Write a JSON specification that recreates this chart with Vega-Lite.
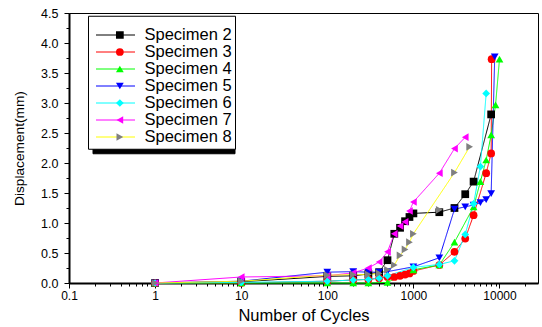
{
  "$schema": "https://vega.github.io/schema/vega-lite/v6.json",
  "width": 469,
  "height": 270,
  "autosize": {"type": "none"},
  "padding": {"left": 69, "top": 13, "right": 4, "bottom": 44},
  "background": "white",
  "config": {
    "font": "Liberation Sans",
    "view": {"stroke": "#000000", "strokeWidth": 1}
  },
  "data": {
    "values": [
      {"specimen": "Specimen 2", "cycles": 1, "disp": 0, "joined": true},
      {"specimen": "Specimen 2", "cycles": 10, "disp": 0.02, "joined": true},
      {"specimen": "Specimen 2", "cycles": 100, "disp": 0.11, "joined": true},
      {"specimen": "Specimen 2", "cycles": 200, "disp": 0.12, "joined": true},
      {"specimen": "Specimen 2", "cycles": 300, "disp": 0.15, "joined": true},
      {"specimen": "Specimen 2", "cycles": 400, "disp": 0.18, "joined": true},
      {"specimen": "Specimen 2", "cycles": 500, "disp": 0.38, "joined": true},
      {"specimen": "Specimen 2", "cycles": 600, "disp": 0.82, "joined": true},
      {"specimen": "Specimen 2", "cycles": 700, "disp": 0.92, "joined": true},
      {"specimen": "Specimen 2", "cycles": 800, "disp": 1.03, "joined": true},
      {"specimen": "Specimen 2", "cycles": 900, "disp": 1.1, "joined": true},
      {"specimen": "Specimen 2", "cycles": 1000, "disp": 1.16, "joined": true},
      {"specimen": "Specimen 2", "cycles": 2000, "disp": 1.18, "joined": true},
      {"specimen": "Specimen 2", "cycles": 3000, "disp": 1.25, "joined": true},
      {"specimen": "Specimen 2", "cycles": 4000, "disp": 1.48, "joined": true},
      {"specimen": "Specimen 2", "cycles": 5000, "disp": 1.69, "joined": true},
      {"specimen": "Specimen 2", "cycles": 8000, "disp": 2.81, "joined": true},

      {"specimen": "Specimen 3", "cycles": 1, "disp": 0, "joined": true},
      {"specimen": "Specimen 3", "cycles": 10, "disp": 0, "joined": true},
      {"specimen": "Specimen 3", "cycles": 100, "disp": 0.03, "joined": true},
      {"specimen": "Specimen 3", "cycles": 200, "disp": 0.05, "joined": true},
      {"specimen": "Specimen 3", "cycles": 300, "disp": 0.06, "joined": true},
      {"specimen": "Specimen 3", "cycles": 400, "disp": 0.08, "joined": true},
      {"specimen": "Specimen 3", "cycles": 500, "disp": 0.1, "joined": true},
      {"specimen": "Specimen 3", "cycles": 600, "disp": 0.1, "joined": true},
      {"specimen": "Specimen 3", "cycles": 700, "disp": 0.12, "joined": true},
      {"specimen": "Specimen 3", "cycles": 800, "disp": 0.14, "joined": true},
      {"specimen": "Specimen 3", "cycles": 900, "disp": 0.16, "joined": true},
      {"specimen": "Specimen 3", "cycles": 1000, "disp": 0.2, "joined": true},
      {"specimen": "Specimen 3", "cycles": 2000, "disp": 0.3, "joined": true},
      {"specimen": "Specimen 3", "cycles": 3000, "disp": 0.52, "joined": true},
      {"specimen": "Specimen 3", "cycles": 4000, "disp": 0.74, "joined": true},
      {"specimen": "Specimen 3", "cycles": 5000, "disp": 1.13, "joined": true},
      {"specimen": "Specimen 3", "cycles": 7000, "disp": 1.83, "joined": true},
      {"specimen": "Specimen 3", "cycles": 8000, "disp": 2.16, "joined": true},
      {"specimen": "Specimen 3", "cycles": 8100, "disp": 3.73, "joined": true},

      {"specimen": "Specimen 4", "cycles": 1, "disp": 0, "joined": true},
      {"specimen": "Specimen 4", "cycles": 10, "disp": 0, "joined": true},
      {"specimen": "Specimen 4", "cycles": 100, "disp": 0, "joined": true},
      {"specimen": "Specimen 4", "cycles": 200, "disp": 0, "joined": true},
      {"specimen": "Specimen 4", "cycles": 300, "disp": 0, "joined": true},
      {"specimen": "Specimen 4", "cycles": 500, "disp": 0.01, "joined": true},
      {"specimen": "Specimen 4", "cycles": 1000, "disp": 0.22, "joined": true},
      {"specimen": "Specimen 4", "cycles": 2000, "disp": 0.3, "joined": true},
      {"specimen": "Specimen 4", "cycles": 3000, "disp": 0.68, "joined": true},
      {"specimen": "Specimen 4", "cycles": 5000, "disp": 1.27, "joined": true},
      {"specimen": "Specimen 4", "cycles": 6000, "disp": 1.69, "joined": true},
      {"specimen": "Specimen 4", "cycles": 7000, "disp": 2.05, "joined": true},
      {"specimen": "Specimen 4", "cycles": 8000, "disp": 2.47, "joined": true},
      {"specimen": "Specimen 4", "cycles": 9000, "disp": 2.97, "joined": true},
      {"specimen": "Specimen 4", "cycles": 10000, "disp": 3.73, "joined": true},

      {"specimen": "Specimen 5", "cycles": 1, "disp": 0, "joined": true},
      {"specimen": "Specimen 5", "cycles": 10, "disp": 0.03, "joined": true},
      {"specimen": "Specimen 5", "cycles": 100, "disp": 0.18, "joined": true},
      {"specimen": "Specimen 5", "cycles": 200, "disp": 0.19, "joined": true},
      {"specimen": "Specimen 5", "cycles": 300, "disp": 0.18, "joined": true},
      {"specimen": "Specimen 5", "cycles": 400, "disp": 0.18, "joined": true},
      {"specimen": "Specimen 5", "cycles": 500, "disp": 0.19, "joined": true},
      {"specimen": "Specimen 5", "cycles": 1000, "disp": 0.27, "joined": true},
      {"specimen": "Specimen 5", "cycles": 2000, "disp": 0.42, "joined": true},
      {"specimen": "Specimen 5", "cycles": 3000, "disp": 1.23, "joined": true},
      {"specimen": "Specimen 5", "cycles": 4000, "disp": 1.27, "joined": true},
      {"specimen": "Specimen 5", "cycles": 5000, "disp": 1.3, "joined": true},
      {"specimen": "Specimen 5", "cycles": 6000, "disp": 1.34, "joined": true},
      {"specimen": "Specimen 5", "cycles": 7000, "disp": 1.39, "joined": true},
      {"specimen": "Specimen 5", "cycles": 8000, "disp": 1.49, "joined": true},
      {"specimen": "Specimen 5", "cycles": 8800, "disp": 3.77, "joined": true},

      {"specimen": "Specimen 6", "cycles": 1, "disp": 0, "joined": true},
      {"specimen": "Specimen 6", "cycles": 10, "disp": 0.01, "joined": true},
      {"specimen": "Specimen 6", "cycles": 100, "disp": 0.03, "joined": true},
      {"specimen": "Specimen 6", "cycles": 200, "disp": 0.05, "joined": true},
      {"specimen": "Specimen 6", "cycles": 300, "disp": 0.06, "joined": true},
      {"specimen": "Specimen 6", "cycles": 400, "disp": 0.08, "joined": true},
      {"specimen": "Specimen 6", "cycles": 500, "disp": 0.12, "joined": true},
      {"specimen": "Specimen 6", "cycles": 1000, "disp": 0.26, "joined": true},
      {"specimen": "Specimen 6", "cycles": 2000, "disp": 0.31, "joined": true},
      {"specimen": "Specimen 6", "cycles": 3000, "disp": 0.37, "joined": true},
      {"specimen": "Specimen 6", "cycles": 4000, "disp": 0.81, "joined": true},
      {"specimen": "Specimen 6", "cycles": 5000, "disp": 1.32, "joined": true},
      {"specimen": "Specimen 6", "cycles": 6000, "disp": 1.94, "joined": true},
      {"specimen": "Specimen 6", "cycles": 7000, "disp": 3.16, "joined": true},

      {"specimen": "Specimen 7", "cycles": 1, "disp": 0, "joined": true},
      {"specimen": "Specimen 7", "cycles": 10, "disp": 0.1, "joined": true},
      {"specimen": "Specimen 7", "cycles": 100, "disp": 0.12, "joined": true},
      {"specimen": "Specimen 7", "cycles": 200, "disp": 0.17, "joined": true},
      {"specimen": "Specimen 7", "cycles": 300, "disp": 0.25, "joined": true},
      {"specimen": "Specimen 7", "cycles": 400, "disp": 0.35, "joined": true},
      {"specimen": "Specimen 7", "cycles": 500, "disp": 0.52, "joined": true},
      {"specimen": "Specimen 7", "cycles": 600, "disp": 0.82, "joined": true},
      {"specimen": "Specimen 7", "cycles": 700, "disp": 0.95, "joined": true},
      {"specimen": "Specimen 7", "cycles": 800, "disp": 1.02, "joined": true},
      {"specimen": "Specimen 7", "cycles": 900, "disp": 1.2, "joined": true},
      {"specimen": "Specimen 7", "cycles": 1000, "disp": 1.35, "joined": true},
      {"specimen": "Specimen 7", "cycles": 2000, "disp": 1.83, "joined": true},
      {"specimen": "Specimen 7", "cycles": 3000, "disp": 2.24, "joined": true},
      {"specimen": "Specimen 7", "cycles": 4000, "disp": 2.43, "joined": true},

      {"specimen": "Specimen 8", "cycles": 1, "disp": 0, "joined": true},
      {"specimen": "Specimen 8", "cycles": 10, "disp": 0.03, "joined": true},
      {"specimen": "Specimen 8", "cycles": 100, "disp": 0.13, "joined": true},
      {"specimen": "Specimen 8", "cycles": 200, "disp": 0.14, "joined": true},
      {"specimen": "Specimen 8", "cycles": 300, "disp": 0.14, "joined": true},
      {"specimen": "Specimen 8", "cycles": 400, "disp": 0.16, "joined": true},
      {"specimen": "Specimen 8", "cycles": 500, "disp": 0.22, "joined": true},
      {"specimen": "Specimen 8", "cycles": 600, "disp": 0.3, "joined": true},
      {"specimen": "Specimen 8", "cycles": 700, "disp": 0.46, "joined": true},
      {"specimen": "Specimen 8", "cycles": 800, "disp": 0.56, "joined": true},
      {"specimen": "Specimen 8", "cycles": 900, "disp": 0.68, "joined": true},
      {"specimen": "Specimen 8", "cycles": 1000, "disp": 0.82, "joined": true},
      {"specimen": "Specimen 8", "cycles": 2000, "disp": 1.22, "joined": false},
      {"specimen": "Specimen 8", "cycles": 3000, "disp": 1.84, "joined": true},
      {"specimen": "Specimen 8", "cycles": 4500, "disp": 2.27, "joined": true}
    ]
  },
  "layer": [
    {
      "transform": [{"filter": "datum.joined"}],
      "mark": {"type": "line", "strokeWidth": 1},
      "encoding": {
        "x": {
          "field": "cycles", "type": "quantitative",
          "scale": {"type": "log", "domain": [0.1, 28000], "nice": false},
          "axis": {
            "orient": "bottom", "title": "Number of Cycles",
            "values": [0.1, 1, 10, 100, 1000, 10000], "format": "~g",
            "grid": false, "domainColor": "#000000", "domainWidth": 2,
            "tickColor": "#000000", "tickSize": 5, "tickWidth": 1,
            "labelFontSize": 12, "labelColor": "#000000", "labelPadding": 2.5,
            "labelFlush": false, "labelOverlap": false,
            "titleFontSize": 16.5, "titleFontWeight": "normal", "titleColor": "#000000", "titlePadding": 6
          }
        },
        "y": {
          "field": "disp", "type": "quantitative",
          "scale": {"domain": [0, 4.5], "nice": false},
          "axis": {
            "orient": "left", "title": "Displacement(mm)",
            "values": [0, 0.5, 1, 1.5, 2, 2.5, 3, 3.5, 4, 4.5], "format": ".1f",
            "grid": false, "domainColor": "#000000", "domainWidth": 2,
            "tickColor": "#000000", "tickSize": 5, "tickWidth": 1,
            "labelFontSize": 12.5, "labelColor": "#000000", "labelPadding": 6,
            "labelFlush": false, "labelOverlap": false,
            "titleFontSize": 13.7, "titleFontWeight": "normal", "titleColor": "#000000", "titlePadding": 14
          }
        },
        "color": {
          "field": "specimen", "type": "nominal",
          "scale": {"range": ["#000000", "#ff0000", "#00ff00", "#0000ff", "#00ffff", "#ff00ff", "#ffff00"]},
          "legend": {
            "title": " ", "titleFontSize": 6, "titlePadding": 2,
            "orient": "none", "legendX": 19, "legendY": 2.75, "zindex": 2,
            "padding": 3, "fillColor": "#ffffff", "strokeColor": "#000000",
            "symbolType": "stroke", "symbolSize": 1521, "symbolStrokeWidth": 1, "symbolOffset": 4.5,
            "clipHeight": 16.5, "rowPadding": 0, "labelOffset": 9,
            "labelFontSize": 16.5, "labelColor": "#000000"
          }
        },
        "strokeDash": {
          "field": "specimen", "type": "nominal",
          "scale": {
            "domain": ["Specimen 2", "Specimen 3", "Specimen 4", "Specimen 5", "Specimen 6", "Specimen 7", "Specimen 8"],
            "range": [[1, 0], [1, 0], [1, 0], [1, 0], [1, 0], [1, 0], [1, 0]]
          },
          "legend": {
            "title": " ", "titleFontSize": 6, "titlePadding": 2,
            "orient": "none", "legendX": 23.5, "legendY": 7.25, "zindex": 1,
            "padding": 3, "fillColor": "#000000", "strokeColor": "#000000",
            "symbolType": "stroke", "symbolSize": 1521, "symbolStrokeWidth": 1, "symbolOpacity": 0,
            "clipHeight": 16.5, "rowPadding": 0, "labelOffset": 96,
            "labelFontSize": 16.5, "labelExpr": "''"
          }
        }
      }
    },
    {
      "mark": {"type": "point", "filled": true, "size": 60, "strokeWidth": 0, "opacity": 1},
      "encoding": {
        "x": {
          "field": "cycles", "type": "quantitative",
          "axis": {
            "orient": "bottom", "title": null, "labels": false, "domain": false, "grid": false,
            "values": [0.2, 0.3, 0.4, 0.5, 0.6, 0.7, 0.8, 0.9, 2, 3, 4, 5, 6, 7, 8, 9, 20, 30, 40, 50, 60, 70, 80, 90, 200, 300, 400, 500, 600, 700, 800, 900, 2000, 3000, 4000, 5000, 6000, 7000, 8000, 9000, 20000],
            "tickColor": "#000000", "tickSize": 3, "tickWidth": 1
          }
        },
        "y": {
          "field": "disp", "type": "quantitative",
          "axis": {
            "orient": "left", "title": null, "labels": false, "domain": false, "grid": false,
            "values": [0.25, 0.75, 1.25, 1.75, 2.25, 2.75, 3.25, 3.75, 4.25],
            "tickColor": "#000000", "tickSize": 3, "tickWidth": 1
          }
        },
        "fill": {
          "field": "specimen", "type": "nominal",
          "scale": {"range": ["#000000", "#ff0000", "#00ff00", "#0000ff", "#00ffff", "#ff00ff", "#808080"]},
          "legend": {
            "title": " ", "titleFontSize": 6, "titlePadding": 2,
            "orient": "none", "legendX": 19, "legendY": 2.75, "zindex": 3,
            "padding": 3, "symbolSize": 60, "symbolStrokeWidth": 0, "symbolOffset": 20.6,
            "clipHeight": 16.5, "rowPadding": 0, "labelFontSize": 16.5, "labelExpr": "''"
          }
        },
        "shape": {
          "field": "specimen", "type": "nominal",
          "scale": {"range": ["square", "circle", "triangle-up", "triangle-down", "diamond", "triangle-left", "triangle-right"]},
          "legend": {
            "title": " ", "titleFontSize": 6, "titlePadding": 2,
            "orient": "none", "legendX": 19, "legendY": 2.75, "zindex": 3,
            "padding": 3, "symbolSize": 60, "symbolStrokeWidth": 0, "symbolOffset": 20.6,
            "clipHeight": 16.5, "rowPadding": 0, "labelFontSize": 16.5, "labelExpr": "''"
          }
        }
      }
    }
  ],
  "resolve": {"axis": {"x": "independent", "y": "independent"}}
}
